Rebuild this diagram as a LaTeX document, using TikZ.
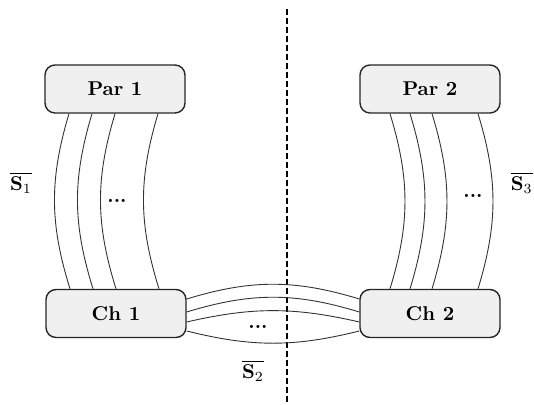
\documentclass[tikz,border=0pt]{standalone}
\usetikzlibrary{calc,positioning}

\begin{document}
\begin{tikzpicture}[x=0.5pt,y=0.5pt,
box/.style = {rectangle, rounded corners=5pt, draw=black!85, line width=0.7pt,
              fill=black!6, minimum width=70pt, minimum height=24pt, font=\bfseries},
wire/.style = {draw=black!80, line width=0.45pt},
lbl/.style = {inner sep=0pt, font=\bfseries}]
\useasboundingbox (0,0) rectangle (534,405);

% parents and children
\node [box] (par1) at (115,316) {Par 1};
\node [box] (par2) at (430,316) {Par 2};
\node [box] (ch1) at (116,91.5) {Ch 1};
\node [box] (ch2) at (430,91.5) {Ch 2};

% divider
\draw [line width=0.75pt, dash pattern=on 3pt off 1.5pt] (287,396) -- (287,0);

\begin{scope}[every path/.style=wire]
% left side
\foreach \dx in {-23,-11.5,0,21.5}
  \path ([xshift=\dx pt]par1.south) to[bend right=17] ([xshift=\dx pt]ch1.north);
% right side
\foreach \dx in {-20,-10,1,24}
  \path ([xshift=\dx pt]par2.south) to[bend left=17] ([xshift=\dx pt]ch2.north);
% across
\path ([yshift=7.25pt]ch1.east) to[bend left=17] ([yshift=7.25pt]ch2.west);
\path ([yshift=0.75pt]ch1.east) to[bend left=17] ([yshift=0.75pt]ch2.west);
\path ([yshift=-4.25pt]ch1.east) to[bend left=13] ([yshift=-4.25pt]ch2.west);
\path ([yshift=-8.75pt]ch1.east) to[bend right=14] ([yshift=-8.75pt]ch2.west);
\end{scope}

% labels
\node [lbl] (dots1) at (117,204) {...};
\node [lbl] (dots2) at (473,209) {...};
\node [lbl] (dots3) at (258,78) {...};
\node [lbl] (s1) at (21,222) {$\overline{\mathbf{S}_1}$};
\node [lbl] (s2) at (253,34) {$\overline{\mathbf{S}_2}$};
\node [lbl, anchor=east] (s3) at (533,222) {$\overline{\mathbf{S}_3}$};
\end{tikzpicture}
\end{document}
